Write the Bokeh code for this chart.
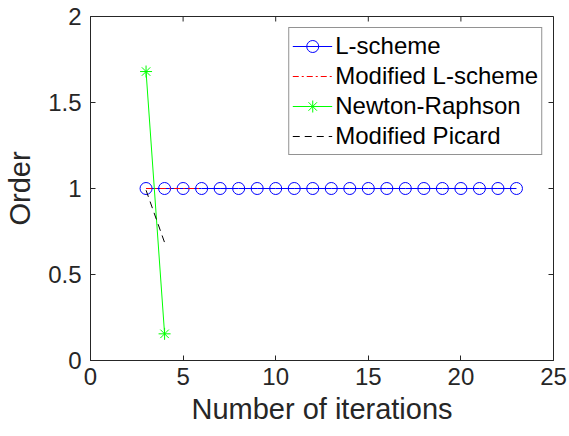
import math
from bokeh.plotting import figure
from bokeh.models import Range1d, FixedTicker, Legend
from bokeh.embed import file_html
from bokeh.resources import INLINE

# Data
l_x = list(range(3, 24))
l_y = [1.0] * len(l_x)
ml_x = [3, 4, 5, 6]
ml_y = [1.0, 1.0, 1.0, 1.0]
nr_x = [3, 4]
nr_y = [1.68, 0.155]
mp_x = [3, 4]
mp_y = [0.99, 0.686]

x_ticks = [0, 5, 10, 15, 20, 25]
y_ticks = [0, 0.5, 1, 1.5, 2]
x_min, x_max = 0, 25
y_min, y_max = 0, 2

FONT = "Liberation Sans"
AX = "#262626"

p = figure(width=569, height=436, output_backend="svg", toolbar_location=None,
           x_range=Range1d(x_min, x_max), y_range=Range1d(y_min, y_max),
           min_border_left=90, min_border_right=16, min_border_top=16, min_border_bottom=76,
           x_axis_label="Number of iterations", y_axis_label="Order")
p.grid.visible = False
p.outline_line_color = AX
p.outline_line_width = 1
p.background_fill_color = "white"
p.border_fill_color = "white"

for ax in p.xaxis + p.yaxis:
    ax.major_tick_in = 5
    ax.major_tick_out = 0
    ax.minor_tick_in = 0
    ax.minor_tick_out = 0
    ax.axis_line_color = AX
    ax.major_tick_line_color = AX
    ax.major_label_text_font = FONT
    ax.major_label_text_font_size = "24px"
    ax.major_label_text_color = AX
    ax.axis_label_text_font = FONT
    ax.axis_label_text_font_size = "29px"
    ax.axis_label_text_font_style = "normal"
    ax.axis_label_text_color = AX
p.xaxis.ticker = FixedTicker(ticks=x_ticks)
p.yaxis.ticker = FixedTicker(ticks=y_ticks)
p.xaxis.major_label_standoff = 7
p.yaxis.major_label_standoff = 9
p.xaxis.axis_label_standoff = 5
p.yaxis.axis_label_standoff = 9

# inward ticks on the top and right edges of the box
p.ray(x=x_ticks, y=[y_max] * len(x_ticks), length=5, length_units="screen",
      angle=-math.pi / 2, line_color=AX, line_width=1)
p.ray(x=[x_max] * len(y_ticks), y=y_ticks, length=5, length_units="screen",
      angle=math.pi, line_color=AX, line_width=1)

r1l = p.line(l_x, l_y, line_color="#0000ff", line_width=1)
r1m = p.scatter(l_x, l_y, marker="circle", size=12, fill_color=None, line_color="#0000ff", line_width=1)
r2 = p.line(ml_x, ml_y, line_color="#ff0000", line_width=1, line_dash="6 3 2 3")
r3l = p.line(nr_x, nr_y, line_color="#00ff00", line_width=1)
r3m = p.scatter(nr_x, nr_y, marker="asterisk", size=12, line_color="#00ff00", line_width=1)
r4 = p.line(mp_x, mp_y, line_color="black", line_width=1, line_dash="7 5")

legend = Legend(items=[("L-scheme", [r1l, r1m]),
                       ("Modified L-scheme", [r2]),
                       ("Newton-Raphson", [r3l, r3m]),
                       ("Modified Picard", [r4])],
                location="top_right")
legend.margin = 11
legend.padding = 3
legend.spacing = 0
legend.glyph_width = 40
legend.glyph_height = 30
legend.label_height = 30
legend.label_standoff = 3
legend.label_text_font = FONT
legend.label_text_font_size = "24px"
legend.label_text_color = "black"
legend.border_line_color = AX
legend.border_line_width = 1
legend.background_fill_color = "white"
legend.background_fill_alpha = 1
p.add_layout(legend, "center")

open("out.html", "w").write(file_html(p, INLINE))
